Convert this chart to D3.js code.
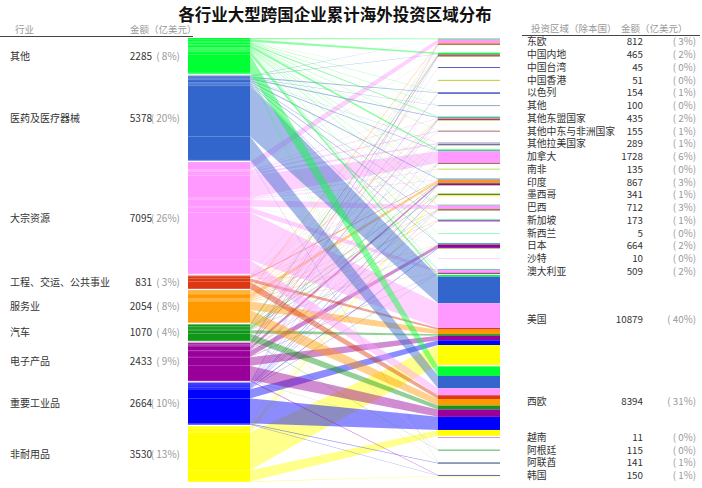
<!DOCTYPE html>
<html>
<head>
<meta charset="utf-8">
<script src="https://cdn.jsdelivr.net/npm/d3@7"></script>
<style>
body{margin:0;background:#fff;}
text{font-family:"Noto Sans CJK SC","Noto Sans",sans-serif;}
</style>
</head>
<body>
<svg id="chart" width="702" height="488"></svg>
<script>
// industries (left column)
let industries=["其他","医药及医疗器械","大宗资源","工程、交运、公共事业","服务业","汽车","电子产品","重要工业品","非耐用品"];
let industryValues=[2285,5378,7095,831,2054,1070,2433,2664,3530];
// regions (right column)
let regions=["东欧","中国内地","中国台湾","中国香港","以色列","其他","其他东盟国家","其他中东与非洲国家","其他拉美国家","加拿大","南非","印度","墨西哥","巴西","新加坡","新西兰","日本","沙特","澳大利亚","美国","西欧","越南","阿根廷","阿联酋","韩国"];
let regionValues=[812,465,45,51,154,100,435,155,289,1728,135,867,341,712,173,5,664,10,509,10879,8394,11,115,141,150];
// flows: one row per industry, one value per region (estimated)
let flowOther=[80,150,10,15,20,40,80,30,25,150,25,40,30,40,25,5,40,0,50,200,1150,0,30,30,20];
let flowMed=[20,40,0,10,70,30,80,0,30,60,0,80,0,40,55,0,70,0,40,3220,1493,0,0,40,0];
let flowRes=[470,30,0,0,0,30,60,110,145,1415,60,50,21,435,0,0,20,10,330,3000,849,0,60,0,0];
let flowEng=[10,10,0,0,0,0,15,15,10,15,0,80,0,15,0,0,0,0,10,195,456,0,0,0,0];
let flowServ=[80,30,0,20,0,0,55,0,20,40,0,270,30,40,40,0,40,0,30,548,790,0,0,21,0];
let flowAuto=[20,90,0,0,0,0,30,0,29,10,0,60,60,50,0,0,30,0,0,200,466,0,25,0,0];
let flowElec=[30,70,30,0,50,0,80,0,0,10,0,200,0,30,30,0,370,0,20,539,903,11,0,0,60];
let flowInd=[40,35,5,0,14,0,25,0,30,20,0,50,50,30,23,0,70,0,29,577,1586,0,0,50,30];
let flowNon=[62,10,0,6,0,0,10,0,0,8,50,37,150,32,0,0,24,0,0,2400,701,0,0,0,40];
let flows=[flowOther,flowMed,flowRes,flowEng,flowServ,flowAuto,flowElec,flowInd,flowNon];

let colors=["#00ff33","#3366cc","#ff99ff","#dc3912","#ff9900","#109618","#990099","#0000ff","#ffff00"];

let svg=d3.select("#chart");
let total=d3.sum(industryValues);
let yTop=38,yBottom=482,padL=1.5,padR=1.5,lineH=12.75;
let xL0=188,xL1=250,xR0=438,xR1=500;
let yL=d3.scaleLinear().domain([0,total]).range([0,yBottom-yTop-padL*(industries.length-1)]);
let yR=d3.scaleLinear().domain([0,total]).range([0,226]);
let pct=v=>"( "+Math.round(v/total*100)+"%)";

// node layout: left stacked, right spaced so labels never collide
let leftNodes=[],rightNodes=[],y=yTop;
industries.forEach((d,i)=>{let h=yL(industryValues[i]);leftNodes.push({y0:y,y1:y+h});y+=h+padL;});
let cy=null,ph=0;
regions.forEach((d,j)=>{
  let h=yR(regionValues[j]);
  cy=cy===null?yTop+h/2+0.5:cy+Math.max(lineH,(ph+h)/2+padR);
  rightNodes.push({y0:cy-h/2,y1:cy+h/2});
  ph=h;
});

// link bands
let lc=leftNodes.map(n=>n.y0),rc=rightNodes.map(n=>n.y0);
let links=[];
regions.forEach((r,j)=>{
  industries.forEach((ind,i)=>{
    let v=flows[i][j];
    if(!v) return;
    let a=yL(v),b=yR(v);
    links.push({i:i,j:j,l0:lc[i],l1:lc[i]+a,r0:rc[j],r1:rc[j]+b});
    lc[i]+=a;rc[j]+=b;
  });
});

svg.append("g").selectAll("path").data(links).enter().append("path")
  .attr("d",d=>"M"+xL1+","+d.l0+"L"+xR0+","+d.r0+"L"+xR0+","+d.r1+"L"+xL1+","+d.l1+"Z")
  .attr("fill",d=>colors[d.i]).attr("fill-opacity",0.45);

// left segments
svg.append("g").selectAll("rect").data(links).enter().append("rect")
  .attr("x",xL0).attr("width",xL1-xL0)
  .attr("y",d=>d.l0).attr("height",d=>Math.max(d.l1-d.l0,0.3))
  .attr("fill",d=>colors[d.i]);
// right segments
svg.append("g").selectAll("rect").data(links).enter().append("rect")
  .attr("x",xR0).attr("width",xR1-xR0)
  .attr("y",d=>d.r0).attr("height",d=>Math.max(d.r1-d.r0,0.4))
  .attr("fill",d=>colors[d.i]);

// title
svg.append("text").attr("x",335).attr("y",21).attr("text-anchor","middle")
  .style("font-size","16.5px").style("font-weight","bold").attr("fill","#111")
  .text("各行业大型跨国企业累计海外投资区域分布");

// headers
let hd=svg.append("g").style("font-size","9.5px").attr("fill","#999");
hd.append("text").attr("x",15).attr("y",33).text("行业");
hd.append("text").attr("x",130).attr("y",33).text("金额（亿美元）");
hd.append("text").attr("x",531).attr("y",32).text("投资区域（除本国）");
hd.append("text").attr("x",621).attr("y",32).text("金额（亿美元）");
svg.append("line").attr("x1",0).attr("x2",193).attr("y1",36.5).attr("y2",36.5).attr("stroke","#444");
svg.append("line").attr("x1",522).attr("x2",700).attr("y1",35.5).attr("y2",35.5).attr("stroke","#444");

// left labels
let lg=svg.append("g").style("font-size","10px");
leftNodes.forEach((n,i)=>{
  let c=(n.y0+n.y1)/2;
  lg.append("text").attr("x",10).attr("y",c).attr("dy","0.35em").attr("fill","#333").text(industries[i]);
  lg.append("text").attr("x",180).attr("y",c).attr("dy","0.35em").attr("text-anchor","end").attr("fill","#999").text(pct(industryValues[i]));
  lg.append("text").attr("x",152).attr("y",c).attr("dy","0.35em").attr("text-anchor","end").attr("fill","#333").text(industryValues[i]);
});

// right labels
let rg=svg.append("g").style("font-size","9.8px");
rightNodes.forEach((n,j)=>{
  let c=(n.y0+n.y1)/2;
  rg.append("text").attr("x",527).attr("y",c).attr("dy","0.35em").attr("fill","#333").text(regions[j]);
  rg.append("text").attr("x",643).attr("y",c).attr("dy","0.35em").attr("text-anchor","end").attr("fill","#333").text(regionValues[j]);
  rg.append("text").attr("x",696).attr("y",c).attr("dy","0.35em").attr("text-anchor","end").attr("fill","#999").text(pct(regionValues[j]));
});
</script>
</body>
</html>
